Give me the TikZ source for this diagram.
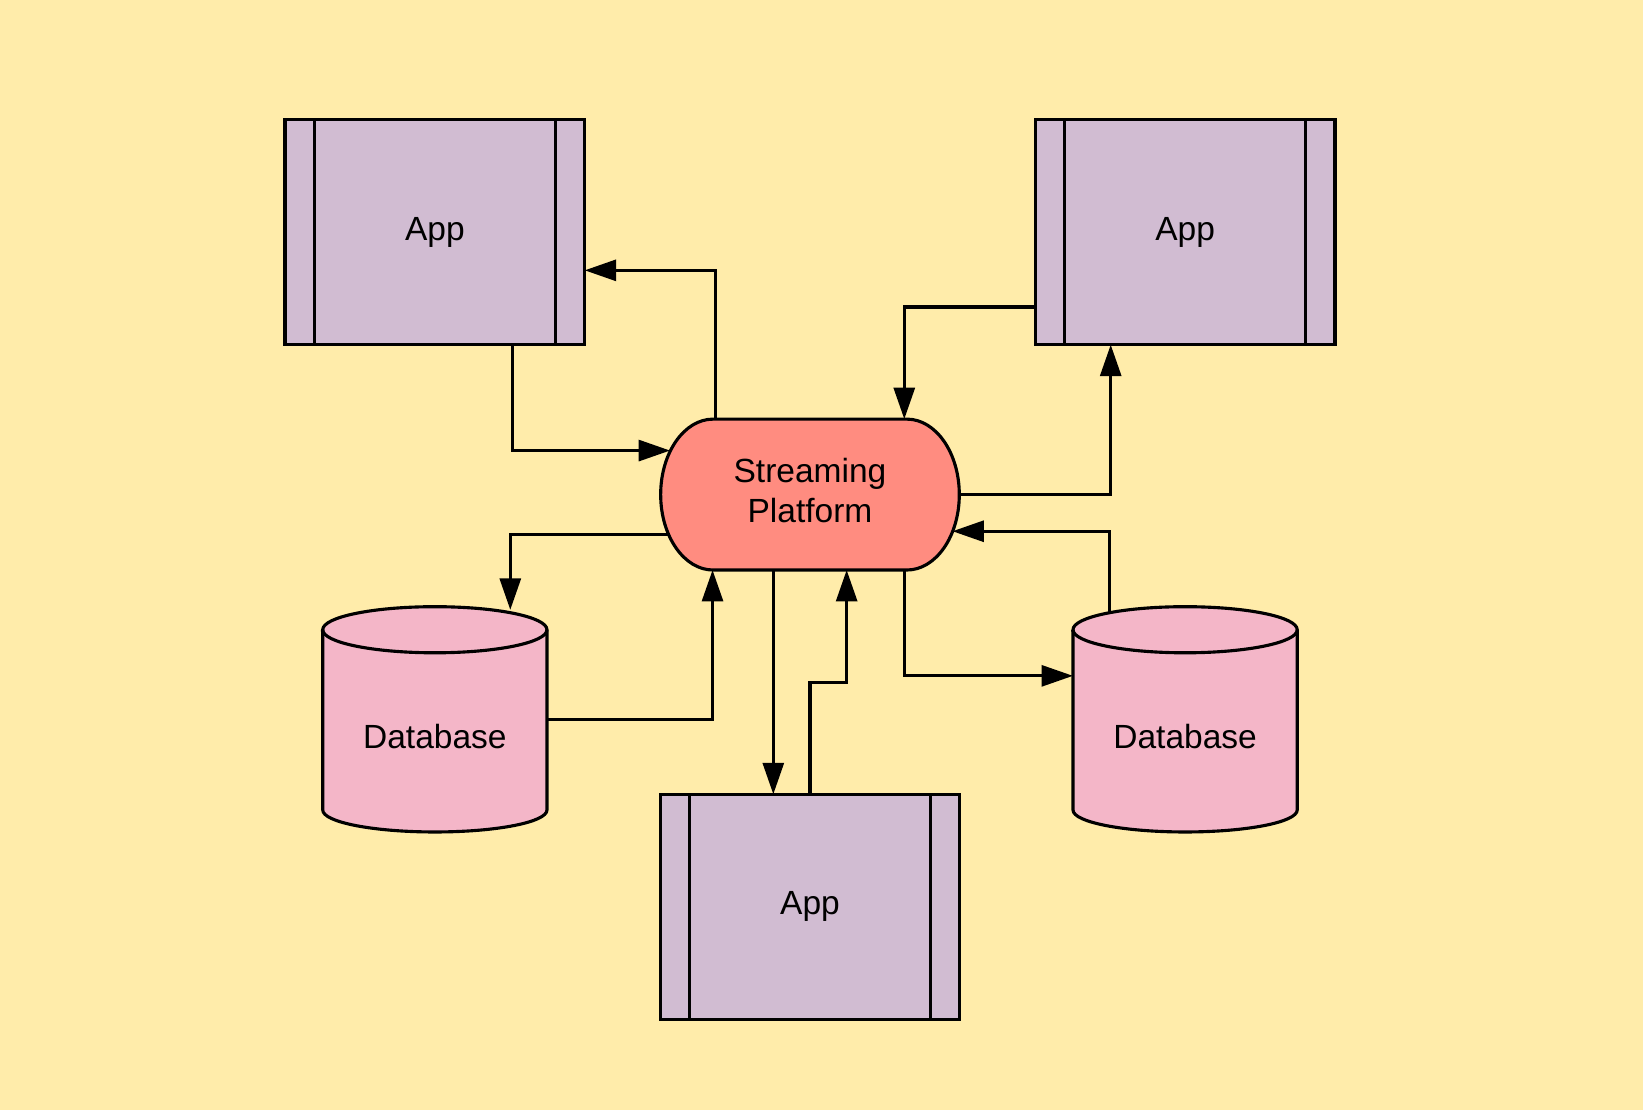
\documentclass[tikz,border=0pt]{standalone}
\usepackage{fontspec}
\setmainfont{Liberation Sans}
\usetikzlibrary{arrows.meta,backgrounds}
\definecolor{bgyellow}{HTML}{FFECAA}
\definecolor{applilac}{HTML}{D1BCD2}
\definecolor{streamred}{HTML}{FF8C80}
\definecolor{dbpink}{HTML}{F4B6C8}
\tikzset{app/.style={draw, fill=applilac, minimum width=2.86cm, minimum height=2.15cm,
         inner sep=0pt, outer sep=0pt},
         stream/.style={minimum width=2.85cm, minimum height=1.44cm, inner sep=0pt,
         outer sep=0pt, align=center, text depth=.08cm, font=\fontsize{9.1}{10.8}\selectfont},
         db/.style={minimum width=2.14cm, minimum height=1.82cm, inner sep=0pt, outer sep=0pt},
         flow/.style={-{Triangle[length=.3cm, width=.2cm]}},
         every on background layer/.style={line width=.85pt}}

\begin{document}
\begin{tikzpicture}[y=-1cm, line width=.85pt, font=\fontsize{9.1}{10.8}\selectfont]
    \begin{scope}[on background layer]
      \fill[bgyellow] (0,0) rectangle (15.68,10.593);
    \end{scope}
    \useasboundingbox (0,0) rectangle (15.68,10.593);

    \node[app] (appTL) at (4.15,2.215) {App};
    \node[app] (appTR) at (11.31,2.215) {App};
    \node[app] (appB) at (7.73,8.655) {App};
    \foreach \n in {appTL,appTR,appB}
      \draw ([xshift=.28cm]\n.north west) -- ([xshift=.28cm]\n.south west)
            ([xshift=-.28cm]\n.north east) -- ([xshift=-.28cm]\n.south east);

    \node[stream] (plat) at (7.73,4.72) {Streaming\\Platform};
    \node[db] (dbL) at (4.15,7.03) {Database};
    \node[db] (dbR) at (11.31,7.03) {Database};

    \begin{scope}[on background layer]
      \filldraw[fill=streamred] ([xshift=.5cm]plat.north west) -- ([xshift=-.5cm]plat.north east)
        arc[start angle=90, end angle=-90, x radius=.5cm, y radius=.72cm]
        -- ([xshift=.5cm]plat.south west)
        arc[start angle=270, end angle=90, x radius=.5cm, y radius=.72cm] -- cycle;
      \foreach \n in {dbL,dbR}{
        \filldraw[fill=dbpink] ([shift={(0,-.11)}]\n.north west) -- ([shift={(0,-.21)}]\n.south west)
          arc[start angle=180, end angle=360, x radius=1.07cm, y radius=.21cm]
          -- ([shift={(0,-.11)}]\n.north east)
          arc[start angle=0, end angle=180, x radius=1.07cm, y radius=.22cm] -- cycle;
        \draw ([shift={(0,-.11)}]\n.north west)
          arc[start angle=180, end angle=360, x radius=1.07cm, y radius=.22cm];}
    \end{scope}

    \draw[flow] ([shift={(-.9,0)}]plat.north) |- ([shift={(0,.365)}]appTL.east);
    \draw[flow] ([shift={(.74,0)}]appTL.south) |- ([shift={(-1.335,-.42)}]plat.center);
    \draw[flow] ([shift={(0,.715)}]appTR.west) -| ([shift={(.9,0)}]plat.north);
    \draw[flow] (plat.east) -| ([shift={(-.71,0)}]appTR.south);
    \draw[flow] ([shift={(-1.355,.38)}]plat.center) -| ([shift={(.72,-.30)}]dbL.north);
    \draw[flow] ([shift={(0,-.16)}]dbL.east) -| ([shift={(-.93,0)}]plat.south);
    \draw[flow] ([shift={(-.35,0)}]plat.south) -- ([shift={(-.35,0)}]appB.north);
    \draw[flow] (appB.north) -- ++(0,-1.07) -| ([shift={(.35,0)}]plat.south);
    \draw[flow] ([shift={(.9,0)}]plat.south) |- ([shift={(0,-.58)}]dbR.west);
    \draw[flow] ([shift={(-.72,-.28)}]dbR.north) |- ([shift={(1.36,.35)}]plat.center);
\end{tikzpicture}
\end{document}
